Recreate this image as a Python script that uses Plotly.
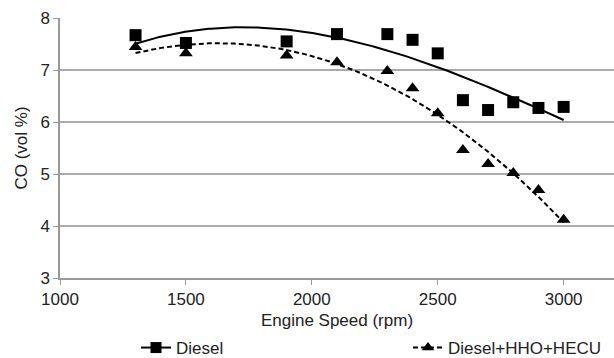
import numpy as np
import plotly.graph_objects as go

# Engine speed (rpm) and CO emissions (vol %)
speed = [1300, 1500, 1900, 2100, 2300, 2400, 2500, 2600, 2700, 2800, 2900, 3000]
co_diesel = [7.67, 7.52, 7.55, 7.69, 7.69, 7.58, 7.32, 6.42, 6.23, 6.38, 6.27, 6.29]
co_hho = [7.44, 7.32, 7.28, 7.15, 6.98, 6.65, 6.17, 5.46, 5.19, 5.02, 4.69, 4.12]

x_ticks = [1000, 1500, 2000, 2500, 3000]
y_ticks = [3, 4, 5, 6, 7, 8]

FONT = "Liberation Sans, Arial, sans-serif"
TXT = "#222"

# Polynomial trend lines through each series
xs = np.linspace(min(speed), max(speed), 200)
fit_diesel = np.polyval(np.polyfit(speed, co_diesel, 3), xs)
fit_hho = np.polyval(np.polyfit(speed, co_hho, 3), xs)

fig = go.Figure()

fig.add_trace(go.Scatter(x=xs, y=fit_diesel, mode="lines",
                         line=dict(color="black", width=2), showlegend=False,
                         hoverinfo="skip"))
fig.add_trace(go.Scatter(x=xs, y=fit_hho, mode="lines",
                         line=dict(color="black", width=2, dash="5px,3px"),
                         showlegend=False, hoverinfo="skip"))
fig.add_trace(go.Scatter(x=speed, y=co_diesel, mode="markers",
                         marker=dict(symbol="square", size=12, color="black"),
                         showlegend=False))
fig.add_trace(go.Scatter(x=speed, y=co_hho, mode="markers",
                         marker=dict(symbol="triangle-up", size=12, color="black"),
                         showlegend=False))

# Legend entries
fig.add_trace(go.Scatter(x=[None], y=[None], mode="lines+markers", name="Diesel",
                         line=dict(color="black", width=2),
                         marker=dict(symbol="square", size=11, color="black")))
fig.add_trace(go.Scatter(x=[None], y=[None], mode="lines+markers",
                         name="Diesel+HHO+HECU",
                         line=dict(color="black", width=2, dash="5px,3px"),
                         marker=dict(symbol="triangle-up", size=11, color="black")))

fig.update_layout(
    width=614, height=358,
    margin=dict(l=60, r=0, t=18, b=80, autoexpand=False),
    paper_bgcolor="white", plot_bgcolor="white",
    font=dict(family=FONT, size=17, color=TXT),
    showlegend=True,
    legend=dict(orientation="h", xref="container", yref="container",
                x=136 / 614, y=10 / 358, xanchor="left", yanchor="middle",
                entrywidth=227, entrywidthmode="pixels",
                font=dict(size=17, color=TXT), bgcolor="rgba(0,0,0,0)"),
    xaxis=dict(range=[1000, 3200], tickvals=x_ticks, showgrid=False,
               showline=True, linecolor="#999", linewidth=1.5,
               ticks="outside", ticklen=5, tickcolor="#999",
               tickfont=dict(size=17, color=TXT),
               title=dict(text="Engine Speed (rpm)", standoff=8,
                          font=dict(size=17, color=TXT)),
               zeroline=False),
    yaxis=dict(range=[3, 8], tickvals=y_ticks, showgrid=True,
               gridcolor="#aaa", gridwidth=1.5,
               showline=True, linecolor="#999", linewidth=1.5,
               ticks="outside", ticklen=5, tickcolor="#999",
               tickfont=dict(size=17, color=TXT),
               title=dict(text="CO (vol %)", standoff=8,
                          font=dict(size=17, color=TXT)),
               zeroline=False),
)

fig.write_html("out.html")
